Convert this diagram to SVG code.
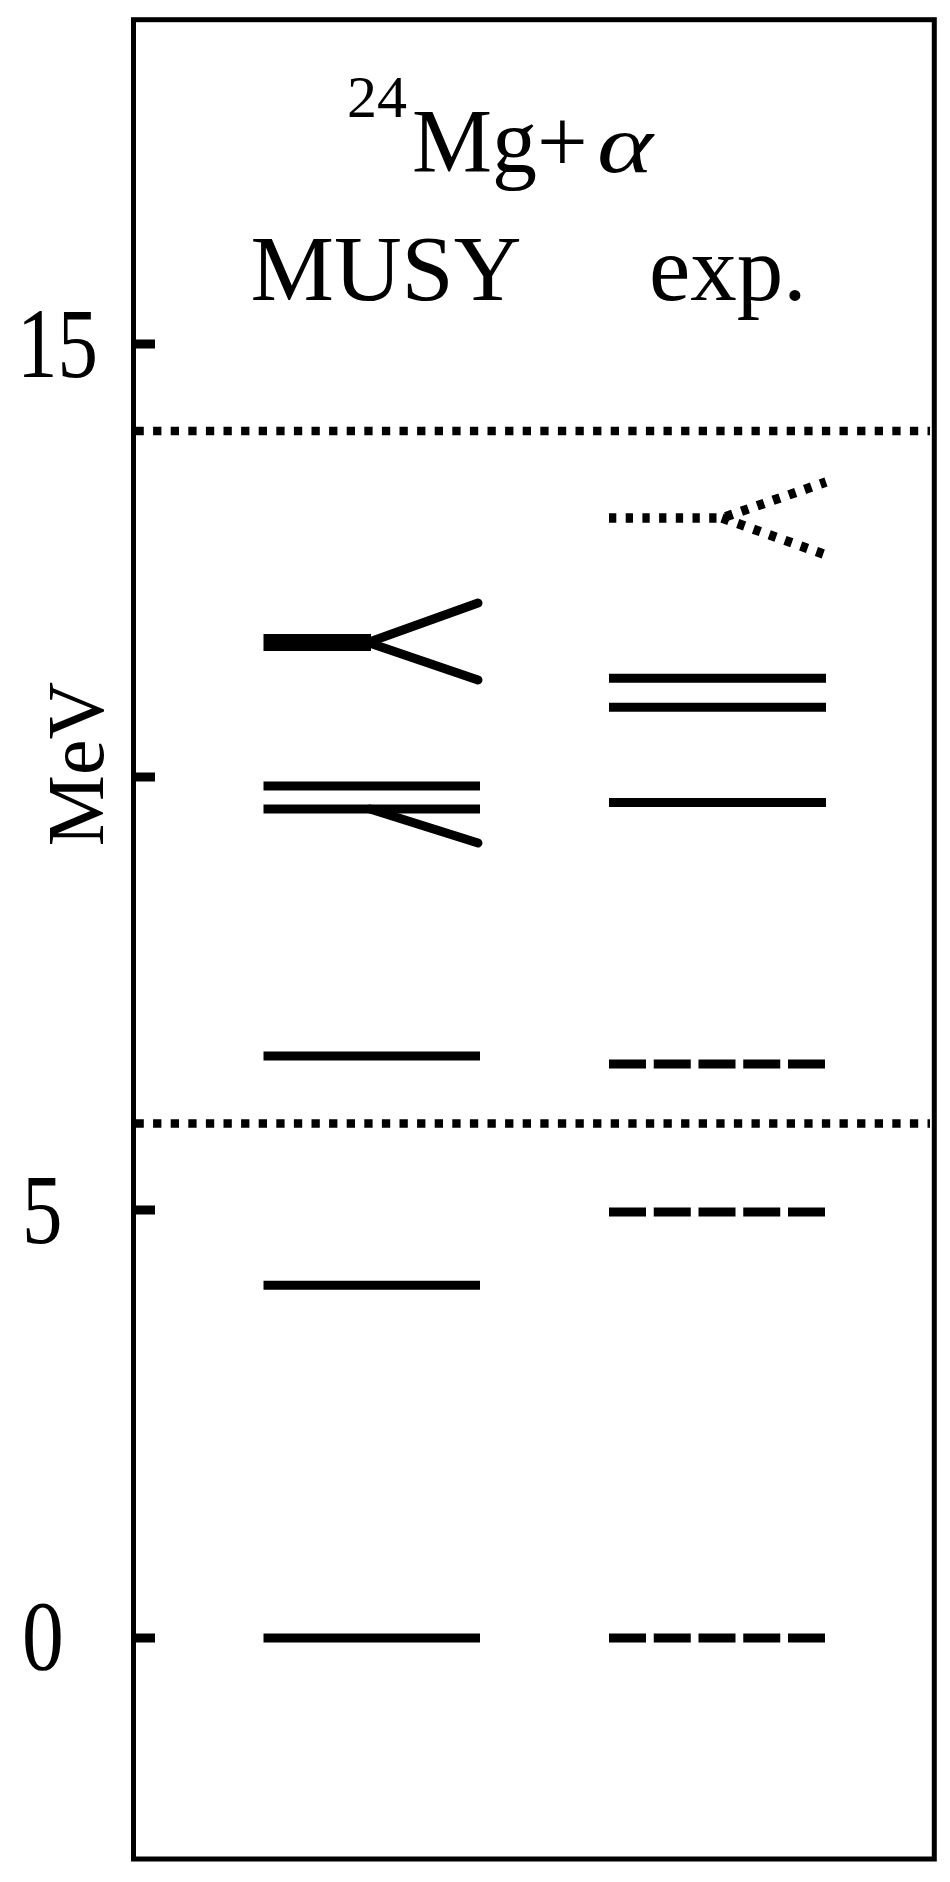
<svg xmlns="http://www.w3.org/2000/svg" width="950" height="1882" viewBox="0 0 950 1882">
<style>
text{font-family:"Liberation Serif","Times New Roman",serif;fill:#000}
.frame{fill:none;stroke:#000;stroke-width:5}
.tick{stroke:#000;stroke-width:9;stroke-linecap:butt}
.thr{stroke:#000;stroke-width:8.5;stroke-dasharray:8.3 9.3;fill:none}
.lv{stroke:#000;stroke-width:9;stroke-linecap:butt;fill:none}
.br{stroke:#000;stroke-width:9;stroke-linecap:round;fill:none}
.dash{stroke:#000;stroke-width:9;stroke-dasharray:37 7.75;fill:none}
.dot{stroke:#000;stroke-width:9.5;stroke-dasharray:7.3 9.4;fill:none}
</style>
<rect width="950" height="1882" fill="#fff"/>
<g id="axes">
<rect class="frame" x="133.5" y="19.7" width="800.8" height="1839.3"/>
<line class="tick" x1="136" y1="344" x2="155" y2="344"/>
<line class="tick" x1="136" y1="777" x2="155" y2="777"/>
<line class="tick" x1="136" y1="1210" x2="155" y2="1210"/>
<line class="tick" x1="136" y1="1638" x2="155" y2="1638"/>
<text transform="translate(17,377) scale(0.92,1.12)" font-size="88">15</text>
<text transform="translate(22,1243) scale(0.92,1.12)" font-size="88">5</text>
<text transform="translate(22,1669) scale(0.95,1.12)" font-size="88">0</text>
<text transform="translate(103,764) rotate(-90)" text-anchor="middle" font-size="80">MeV</text>
</g>
<g id="titles">
<text x="347" y="117" font-size="60">24</text>
<text x="412" y="172" font-size="90">Mg+</text>
<text transform="translate(597,172) scale(1.3,1)" font-size="82" font-style="italic">α</text>
<text x="250.5" y="300" font-size="93" textLength="271" lengthAdjust="spacingAndGlyphs">MUSY</text>
<text x="649" y="300" font-size="93">exp.</text>
</g>
<g id="thresholds">
<line class="thr" x1="135.5" y1="431" x2="930" y2="431"/>
<line class="thr" x1="135.5" y1="1123.5" x2="930" y2="1123.5"/>
</g>
<g id="musy">
<line class="lv" x1="263.5" y1="1638" x2="480" y2="1638"/>
<line class="lv" x1="263.5" y1="1285.3" x2="480" y2="1285.3"/>
<line class="lv" x1="263.5" y1="1056" x2="480" y2="1056"/>
<line class="lv" x1="263.5" y1="786" x2="480" y2="786"/>
<line class="lv" x1="263.5" y1="809" x2="480" y2="809"/>
<line class="br" x1="370" y1="809" x2="478" y2="843"/>
<line class="lv" x1="263.5" y1="642.5" x2="371" y2="642.5" style="stroke-width:17"/>
<line class="br" x1="368" y1="642.5" x2="478" y2="603"/>
<line class="br" x1="368" y1="642.5" x2="478" y2="680"/>
</g>
<g id="exp">
<line class="dash" x1="609" y1="1638" x2="826" y2="1638"/>
<line class="dash" x1="609" y1="1212" x2="826" y2="1212"/>
<line class="dash" x1="609" y1="1064" x2="826" y2="1064"/>
<line class="lv" x1="609" y1="802.5" x2="826" y2="802.5"/>
<line class="lv" x1="609" y1="707.3" x2="826" y2="707.3"/>
<line class="lv" x1="609" y1="678.3" x2="826" y2="678.3"/>
<polyline class="dot" points="609,518 722,518 826,482"/>
<polyline class="dot" points="722,518 826,555"/>
</g>
</svg>
